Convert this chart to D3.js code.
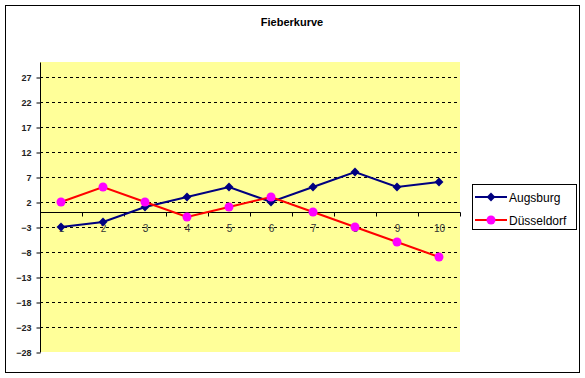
<!DOCTYPE html>
<html><head><meta charset="utf-8">
<script src="https://cdn.jsdelivr.net/npm/d3@7"></script>
<style>body{margin:0;background:#fff}svg{display:block}</style>
</head><body>
<script>
const categories = [1,2,3,4,5,6,7,8,9,10];
const augsburg = [-3,-2,1,3,5,2,5,8,5,6];
const duesseldorf = [2,5,2,-1,1,3,0,-3,-6,-9];
const yTicks = [27,22,17,12,7,2,-3,-8,-13,-18,-23,-28];
const title = "Fieberkurve";
const seriesNames = ["Augsburg","Düsseldorf"];

const W=585,H=378;
const svg=d3.select("body").append("svg").attr("width",W).attr("height",H);
const font="'Liberation Sans', Arial, sans-serif";

svg.append("rect").attr("x",5.5).attr("y",5.5).attr("width",574).attr("height",367)
  .attr("fill","#fff").attr("stroke","#000").attr("stroke-width",1);

const pl=40,pr=460,pt=62,pb=352;
const x=d3.scaleBand().domain(categories).range([pl,pr]);
const y=d3.scaleLinear().domain([-28,30]).range([pb,pt]);

svg.append("rect").attr("x",pl).attr("y",pt).attr("width",pr-pl).attr("height",pb-pt).attr("fill","#ffff99");

svg.append("text").attr("x",292).attr("y",26).attr("text-anchor","middle")
  .attr("font-family",font).attr("font-weight","bold").attr("font-size",11).text(title);

// grid
svg.append("g").selectAll("line").data(yTicks.filter(d=>d>-28)).join("line")
  .attr("x1",pl).attr("x2",pr).attr("y1",d=>Math.round(y(d))+0.5).attr("y2",d=>Math.round(y(d))+0.5)
  .attr("stroke","#000").attr("stroke-dasharray","3,3").attr("stroke-width",1);

// y axis
const ya=svg.append("g").attr("transform",`translate(${pl+0.5},0.5)`)
  .call(d3.axisLeft(y).tickValues(yTicks).tickSize(4).tickPadding(5).tickFormat(d3.format("d")));
ya.select(".domain").attr("d",`M0,${pt}V${pb}`);
ya.selectAll("text").attr("font-family",font).attr("font-size",9).attr("font-weight","bold").attr("fill","#222");

// x axis at 0
const xa=svg.append("g").attr("transform",`translate(0.5,${Math.round(y(0))+0.5})`);
xa.append("line").attr("x1",pl).attr("x2",pr).attr("stroke","#000");
xa.selectAll("line.t").data(categories.concat([null])).join("line").attr("class","t")
  .attr("x1",(d,i)=>Math.round(pl+i*x.bandwidth())).attr("x2",(d,i)=>Math.round(pl+i*x.bandwidth()))
  .attr("y1",0).attr("y2",4).attr("stroke","#000");
xa.selectAll("text").data(categories).join("text")
  .attr("x",d=>x(d)+x.bandwidth()/2).attr("y",19).attr("text-anchor","middle")
  .attr("font-family",font).attr("font-size",10).attr("fill","#333").text(d=>d);

const line=d3.line().x((d,i)=>x(categories[i])+x.bandwidth()/2).y(d=>y(d));
svg.append("path").datum(augsburg).attr("d",line).attr("fill","none").attr("stroke","#000080").attr("stroke-width",2);
svg.append("path").datum(duesseldorf).attr("d",line).attr("fill","none").attr("stroke","#ff0000").attr("stroke-width",2);

const diamond=d3.symbol().type(d3.symbolDiamond2).size(50);
svg.append("g").selectAll("path").data(augsburg).join("path")
  .attr("transform",(d,i)=>`translate(${x(categories[i])+x.bandwidth()/2},${y(d)})`)
  .attr("d",diamond).attr("fill","#000080");
svg.append("g").selectAll("circle").data(duesseldorf).join("circle")
  .attr("cx",(d,i)=>x(categories[i])+x.bandwidth()/2).attr("cy",d=>y(d)).attr("r",4.5)
  .attr("fill","#ff00ff");

// legend
const lg=svg.append("g");
lg.append("rect").attr("x",472.5).attr("y",184.5).attr("width",104).attr("height",45).attr("fill","#fff").attr("stroke","#000");
const ly=[197,220];
const cols=["#000080","#ff0000"];
seriesNames.forEach((n,i)=>{
  lg.append("line").attr("x1",475).attr("x2",507).attr("y1",ly[i]).attr("y2",ly[i]).attr("stroke",cols[i]).attr("stroke-width",2);
  if(i===0) lg.append("path").attr("transform",`translate(491,${ly[i]})`).attr("d",diamond).attr("fill","#000080");
  else lg.append("circle").attr("cx",491).attr("cy",ly[i]).attr("r",4.5).attr("fill","#ff00ff");
  lg.append("text").attr("x",509).attr("y",ly[i]+4.5).attr("font-family",font).attr("font-size",12).text(n);
});
</script>
</body></html>
